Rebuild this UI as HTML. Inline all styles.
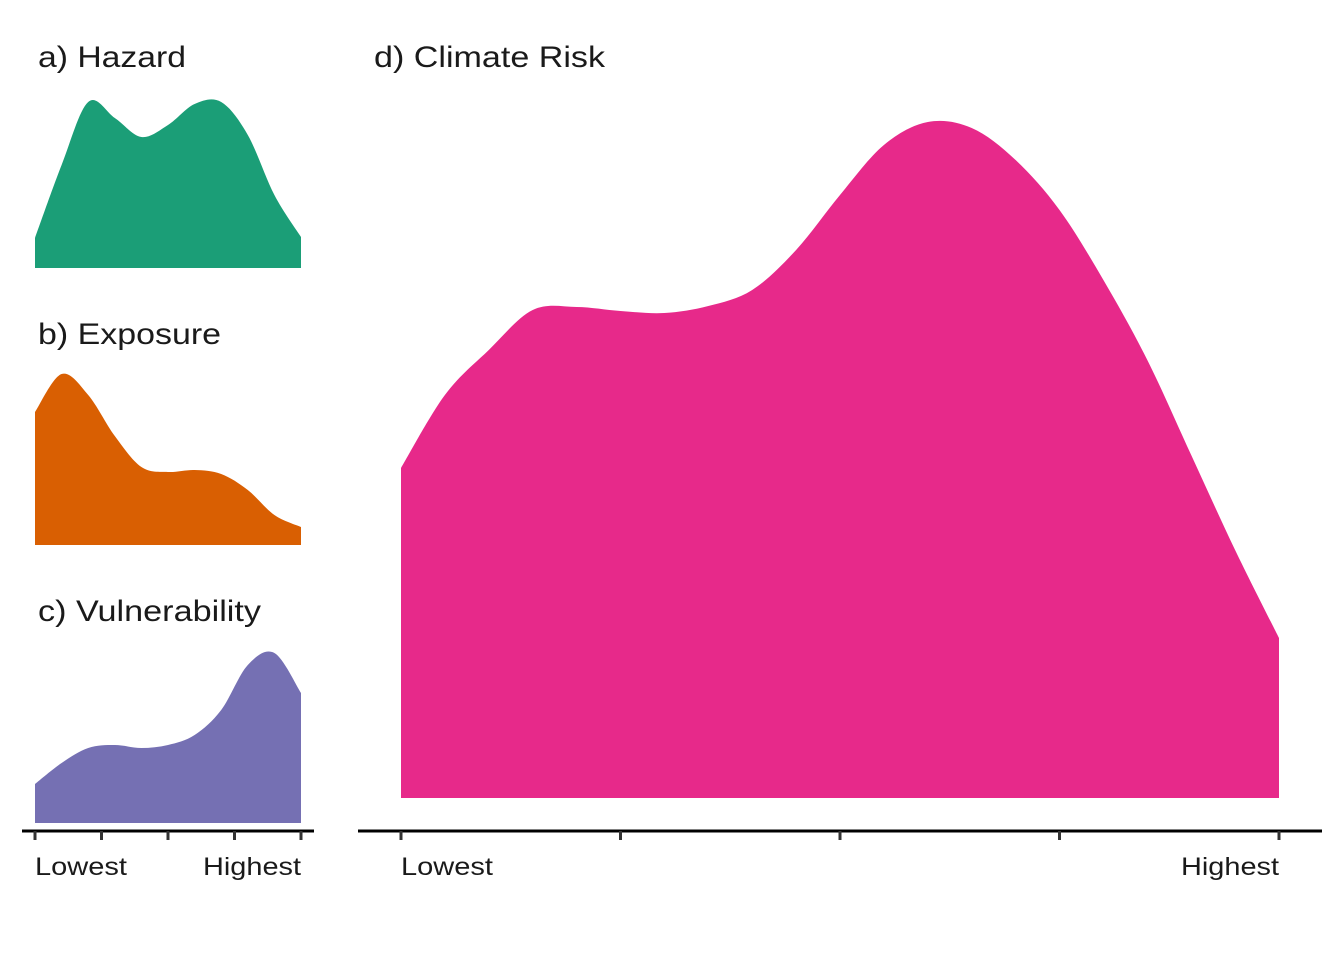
<!DOCTYPE html>
<html><head><meta charset="utf-8"><style>
body{margin:0;background:#fff}
svg{display:block}
text{font-family:"Liberation Sans",sans-serif;fill:#1a1a1a}
</style></head><body>
<svg id="chart" width="1344" height="960">
<g id="g"></g>
</svg>
<script>
// Density values (relative heights)
const hazardVals=[30,103,166,150,131,143,164,166,133,73,31];
const exposureVals=[133,171,150,109,78,73,75,71,55,30,18];
const vulnVals=[39,60,75,78,75,78,88,113,158,170,130];
const riskVals=[330,403,448,488,491,487,485,492,508,548,603,653,676,670,638,588,518,438,343,248,160];
const tickLabels=["Lowest","Highest"];
const titles=["a) Hazard","b) Exposure","c) Vulnerability","d) Climate Risk"];

const NS="http://www.w3.org/2000/svg";
const g=document.getElementById('g');
function el(t,a,p){const e=document.createElementNS(NS,t);for(const k in a)e.setAttribute(k,a[k]);(p||g).appendChild(e);return e;}
function area(vals,x0,x1,base,scale,color,name){
  const n=vals.length,xs=i=>x0+(x1-x0)*i/(n-1),ys=v=>base-v*scale;
  const P=vals.map((v,i)=>[xs(i),ys(v)]);
  let d=`M${x0},${base}L${P[0][0]},${P[0][1]}`;
  for(let i=0;i<n-1;i++){
    const p0=P[Math.max(0,i-1)],p1=P[i],p2=P[i+1],p3=P[Math.min(n-1,i+2)];
    const c1=[p1[0]+(p2[0]-p0[0])/6,p1[1]+(p2[1]-p0[1])/6];
    const c2=[p2[0]-(p3[0]-p1[0])/6,p2[1]-(p3[1]-p1[1])/6];
    d+=`C${c1[0]},${c1[1]} ${c2[0]},${c2[1]} ${p2[0]},${p2[1]}`;
  }
  d+=`L${x1},${base}Z`;
  const e=el('path',{d:d,fill:color});
  
  
}
area(hazardVals,35,301,268,1,'#1B9E77','hazard-density');
area(exposureVals,35,301,545,1,'#D95F02','exposure-density');
area(vulnVals,35,301,823,1,'#7570B3','vulnerability-density');
area(riskVals,401,1279,798,1,'#E7298A','climate-risk-density');

const tpos=[[38,67],[38,344],[38,621],[374,67]];
const tlen=[148,183,223,231];
titles.forEach((t,i)=>{
  const e=el('text',{x:tpos[i][0],y:tpos[i][1],'font-size':30,textLength:tlen[i],lengthAdjust:'spacingAndGlyphs'});
  e.textContent=t;
  
  
});
function axis(x0,x1,l0,l1,name){
  const a=el('g',{});
  
  
  el('line',{x1:x0,x2:x1,y1:831,y2:831,stroke:'#000','stroke-width':3},a);
  for(let i=0;i<5;i++){const x=l0+(l1-l0)*i/4;el('line',{x1:x,x2:x,y1:831,y2:840,stroke:'#333','stroke-width':3},a);}
  const t1=el('text',{x:l0,y:875,'font-size':25,textLength:92,lengthAdjust:'spacingAndGlyphs'},a);t1.textContent=tickLabels[0];
  const t2=el('text',{x:l1-98,y:875,'font-size':25,textLength:98,lengthAdjust:'spacingAndGlyphs'},a);t2.textContent=tickLabels[1];
}
axis(22,314,35,301,'small-x-axis');
axis(358,1322,401,1279,'risk-x-axis');
</script>
</body></html>
